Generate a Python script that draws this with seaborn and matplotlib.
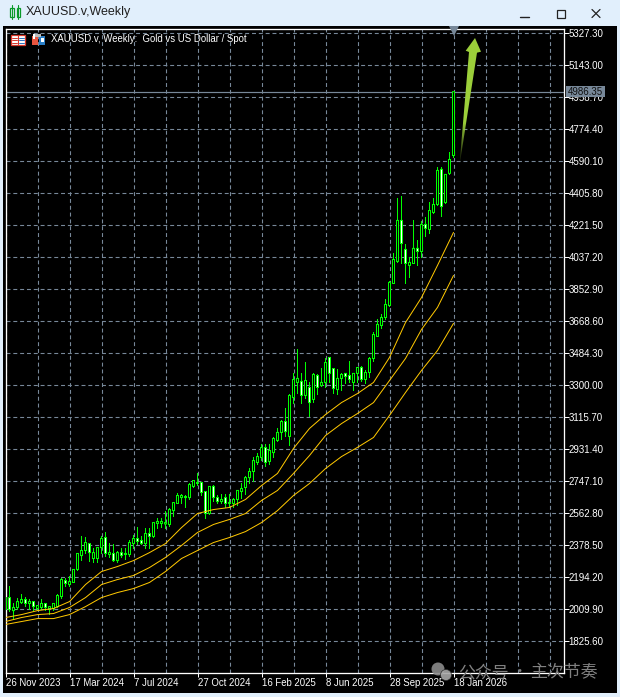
import numpy as np
import pandas as pd
import matplotlib
matplotlib.use("Agg")
import matplotlib.pyplot as plt
from matplotlib.patches import Rectangle, Polygon
import seaborn as sns

# swiece tygodniowe (open, close, high, low)
opens = [2073, 2073, 1998, 2016, 2044, 2062, 2039, 2050, 2010, 2016, 2039, 2010, 2010, 2021, 2079, 2171, 2148, 2160, 2235,
         2315, 2344, 2384, 2298, 2298, 2361, 2419, 2321, 2327, 2286, 2332, 2321, 2321, 2384, 2413, 2402, 2384, 2442, 2425,
         2500, 2500, 2497, 2494, 2574, 2615, 2649, 2655, 2649, 2713, 2730, 2736, 2684, 2557, 2713, 2649, 2626, 2649, 2615,
         2615, 2638, 2684, 2707, 2764, 2799, 2851, 2880, 2937, 2857, 2908, 2978, 3024, 3087, 3001, 3225, 3312, 3318, 3237,
         3283, 3214, 3352, 3294, 3312, 3456, 3392, 3271, 3335, 3364, 3352, 3312, 3364, 3398, 3329, 3369, 3450, 3577, 3640,
         3686, 3755, 3882, 4009, 4245, 4078, 3986, 3997, 4084, 4066, 4222, 4193, 4291, 4337, 4539, 4348, 4516, 4619]
closes = [2004, 2004, 2016, 2050, 2062, 2039, 2050, 2021, 2027, 2039, 2016, 2021, 2039, 2085, 2177, 2154, 2165, 2235, 2327,
          2344, 2390, 2332, 2332, 2361, 2413, 2327, 2332, 2286, 2332, 2315, 2327, 2390, 2413, 2396, 2384, 2442, 2425, 2505,
          2511, 2511, 2505, 2580, 2620, 2661, 2661, 2649, 2724, 2747, 2736, 2678, 2557, 2713, 2649, 2626, 2638, 2615, 2620,
          2638, 2690, 2701, 2764, 2799, 2862, 2885, 2937, 2851, 2920, 2989, 3024, 3087, 3029, 3237, 3329, 3335, 3237, 3323,
          3196, 3358, 3283, 3312, 3427, 3364, 3277, 3335, 3358, 3346, 3329, 3364, 3398, 3329, 3369, 3450, 3588, 3646, 3686,
          3761, 3888, 4020, 4245, 4112, 3997, 4003, 4084, 4066, 4222, 4199, 4302, 4337, 4533, 4325, 4510, 4596, 4986.35]
highs = [2073, 2142, 2039, 2068, 2091, 2079, 2062, 2056, 2033, 2062, 2044, 2027, 2039, 2091, 2188, 2188, 2200, 2240, 2332,
         2430, 2419, 2384, 2356, 2361, 2430, 2448, 2390, 2384, 2344, 2361, 2361, 2402, 2436, 2482, 2425, 2471, 2471, 2505,
         2534, 2534, 2574, 2586, 2626, 2678, 2672, 2661, 2730, 2753, 2788, 2741, 2684, 2713, 2724, 2661, 2672, 2672, 2672,
         2649, 2695, 2730, 2776, 2822, 2880, 2908, 2960, 2955, 2960, 2995, 3047, 3093, 3162, 3248, 3364, 3502, 3364, 3427,
         3312, 3364, 3358, 3398, 3450, 3456, 3392, 3392, 3369, 3369, 3438, 3364, 3398, 3404, 3381, 3456, 3600, 3675, 3709,
         3790, 3899, 4060, 4377, 4383, 4107, 4032, 4245, 4135, 4239, 4262, 4354, 4377, 4550, 4550, 4510, 4637, 4986.35]
lows = [2004, 1998, 1958, 2010, 2039, 2027, 2010, 2004, 2004, 2010, 2004, 1981, 2004, 2016, 2073, 2142, 2142, 2160, 2229,
        2292, 2327, 2286, 2275, 2275, 2327, 2315, 2309, 2281, 2275, 2304, 2298, 2315, 2356, 2384, 2379, 2356, 2361, 2419,
        2471, 2482, 2471, 2488, 2540, 2615, 2620, 2597, 2643, 2707, 2724, 2661, 2534, 2557, 2632, 2615, 2615, 2592, 2592,
        2592, 2609, 2649, 2672, 2730, 2747, 2845, 2868, 2828, 2845, 2880, 2972, 2989, 3006, 2949, 3196, 3254, 3196, 3225,
        3116, 3202, 3248, 3294, 3283, 3312, 3254, 3243, 3271, 3306, 3312, 3266, 3312, 3323, 3306, 3346, 3433, 3577, 3623,
        3680, 3755, 3882, 4003, 3997, 3882, 3922, 3997, 3991, 4032, 4158, 4170, 4285, 4331, 4268, 4348, 4510, 4608]

# srednie kroczace, odczyt co 4 tygodnie
ma_weeks = list(range(0, 113, 4))
ma_fast = [1958, 1975, 1998, 2010, 2050, 2148, 2223, 2252, 2286, 2332, 2384, 2476, 2557, 2580, 2592, 2638, 2718, 2788, 2932,
           3047, 3127, 3196, 3248, 3312, 3456, 3657, 3801, 3986, 4176]
ma_mid = [1935, 1958, 1975, 1981, 2016, 2073, 2148, 2177, 2200, 2246, 2304, 2373, 2448, 2494, 2523, 2557, 2632, 2690, 2788,
          2891, 3006, 3075, 3133, 3196, 3323, 3450, 3617, 3744, 3928]
ma_slow = [1918, 1935, 1952, 1952, 1975, 2021, 2073, 2102, 2125, 2160, 2223, 2298, 2344, 2390, 2419, 2453, 2505, 2574, 2661,
           2730, 2816, 2885, 2938, 2995, 3122, 3254, 3381, 3496, 3652]

price_ticks = [5327.30, 5143.00, 4958.70, 4774.40, 4590.10, 4405.80, 4221.50, 4037.20, 3852.90, 3668.60,
               3484.30, 3300.00, 3115.70, 2931.40, 2747.10, 2562.80, 2378.50, 2194.20, 2009.90, 1825.60]
date_labels = ["26 Nov 2023", "17 Mar 2024", "7 Jul 2024", "27 Oct 2024", "16 Feb 2025", "8 Jun 2025", "28 Sep 2025", "18 Jan 2026"]
last_price = 4986.35

W, H = 620, 697
GRID = "#778899"
LIME = "#00FF00"
MA_COLOR = "#FFC800"
PX = 0.72  # 1 piksel w punktach przy dpi=100
PRICE_PX = 5.759  # ile ceny na 1 piksel

sns.set_theme(style="dark", rc={"axes.facecolor": "black", "figure.facecolor": "#E1EFFC"})
plt.rcParams["font.family"] = ["Liberation Sans", "Noto Sans CJK SC", "DejaVu Sans"]

fig = plt.figure(figsize=(W / 100, H / 100), dpi=100)

# tlo okna
bg = fig.add_axes([0, 0, 1, 1], zorder=0)
bg.set_xlim(0, W)
bg.set_ylim(H, 0)
bg.axis("off")
bg.add_patch(Rectangle((3, 26), 614, 667, color="black", lw=0))

# glowny wykres
x0, x1, y0, y1 = 5.5, 563.5, 28.5, 672.5
ax = fig.add_axes([x0 / W, 1 - y1 / H, (x1 - x0) / W, (y1 - y0) / H], zorder=1)
weeks = np.arange(len(opens))
df = pd.DataFrame({"week": weeks, "open": opens, "close": closes, "high": highs, "low": lows})
df["top"] = df[["open", "close"]].max(axis=1)
df["bot"] = df[["open", "close"]].min(axis=1)
df["inner"] = np.where(df["close"] >= df["open"], "black", "white")

# male przesuniecie, zeby knot po zaokragleniu trafil w srodek swiecy
ax.vlines(df["week"] - 0.05, df["low"], df["high"], color=LIME, lw=PX, antialiased=False, zorder=3)
# swieca: zielony prostokat 3 px i wypelnienie 1 px w srodku
body_h = np.maximum(df["top"] - df["bot"] + PRICE_PX, 2 * PRICE_PX)
ax.bar(df["week"], body_h, bottom=df["bot"] - PRICE_PX / 2, width=0.75, color=LIME, linewidth=0, snap=False, zorder=4)
inner_h = np.maximum(df["top"] - df["bot"] - PRICE_PX, 0)
ax.bar(df["week"], inner_h, bottom=df["bot"] + PRICE_PX / 2, width=0.25, color=df["inner"], linewidth=0, snap=False, zorder=5)

ma_df = pd.DataFrame({"week": ma_weeks * 3, "price": ma_fast + ma_mid + ma_slow,
                      "ma": ["fast"] * 29 + ["mid"] * 29 + ["slow"] * 29})
sns.lineplot(data=ma_df, x="week", y="price", hue="ma", palette=[MA_COLOR] * 3, linewidth=PX,
             legend=False, ax=ax, zorder=6, estimator=None, errorbar=None)

ax.axhline(last_price, color=GRID, lw=PX * 1.2, zorder=2)

ax.set_xlim(0, 139.5)
ax.set_ylim(1641.5, 5350.34)
ax.set_xlabel("")
ax.set_ylabel("")
ax.set_xticks(np.arange(0, 113, 16))
ax.set_xticks(np.arange(8, 137, 8), minor=True)
ax.set_xticklabels(date_labels, ha="left", fontsize=6.9, color="white")
ax.set_yticks(price_ticks)
ax.set_yticklabels([f"{p:.2f}" for p in price_ticks], fontsize=7, color="white")
ax.yaxis.tick_right()
ax.tick_params(axis="y", which="major", length=3.4, width=PX, color="white", pad=0.1, right=True, left=False)
ax.tick_params(axis="x", which="major", length=3, width=PX, color="white", pad=0.8, bottom=True)
ax.tick_params(axis="x", which="minor", length=0)
ax.grid(True, which="both", color=GRID, lw=PX * 1.1, linestyle=(0, (3.6, 2.6)), zorder=1)
ax.set_axisbelow(True)
for side in ax.spines.values():
    side.set_color("white")
    side.set_linewidth(PX * 1.3)
ax.plot([112], [5338], marker="v", ms=6.5, color=GRID, mew=0, clip_on=False, zorder=7)

# elementy okna, strzalka, znak wodny
top = fig.add_axes([0, 0, 1, 1], zorder=2)
top.set_xlim(0, W)
top.set_ylim(H, 0)
top.axis("off")
top.patch.set_alpha(0)

top.text(26, 12.5, "XAUUSD.v,Weekly", fontsize=9.0, color="#202020", va="center", ha="left")
# ikona tytulu
top.add_patch(Rectangle((10, 7.5), 3.5, 9, fc="none", ec="#0A9A2A", lw=0.9))
top.add_patch(Rectangle((16.5, 7.5), 3.5, 9, fc="none", ec="#0A9A2A", lw=0.9))
top.plot([11.7, 11.7], [5, 19], color="#0A9A2A", lw=0.8)
top.plot([18.2, 18.2], [5, 19], color="#0A9A2A", lw=0.8)
# przyciski okna
top.plot([520, 529], [17, 17], color="#222222", lw=1)
top.add_patch(Rectangle((556.5, 9.5), 8, 8, fc="none", ec="#222222", lw=0.9))
top.plot([592, 600], [9.5, 17.5], color="#222222", lw=0.9)
top.plot([592, 600], [17.5, 9.5], color="#222222", lw=0.9)

# ikonki w naglowku wykresu
top.add_patch(Rectangle((10.5, 34.5), 14, 10, fc="white", ec="#D8362A", lw=0.9))
top.plot([17.5, 17.5], [35, 44], color="#D8362A", lw=0.8)
for yy in (37.5, 40, 42.5):
    top.plot([12, 16.5], [yy, yy], color="#D8362A", lw=0.7)
    top.plot([18.5, 23.5], [yy, yy], color="#2A6FC0", lw=0.7)
top.add_patch(Rectangle((31.5, 35.5), 6, 9, fc="#E8553F", ec="none"))
top.add_patch(Rectangle((39, 35.5), 6, 9, fc="#2A7FC8", ec="none"))
top.add_patch(Rectangle((33, 34), 2, 5, fc="white", ec="none"))
top.add_patch(Rectangle((35, 34), 6, 3, fc="#BBBBBB", ec="none"))
top.add_patch(Rectangle((41, 37.5), 2.5, 4, fc="white", ec="none"))
top.text(51, 39.5, "XAUUSD.v, Weekly:  Gold vs US Dollar / Spot", fontsize=6.9, color="white", va="center", ha="left")

# etykieta biezacej ceny
top.add_patch(Rectangle((566, 86), 39, 11, fc=GRID, ec="none"))
top.text(568, 91.7, f"{last_price:.2f}", fontsize=7, color="#101010", va="center", ha="left")

# strzalka z gradientem przy ogonie
arrow_pts = [(459.3, 167), (469, 52), (465.7, 50.7), (475, 38), (481, 51.7), (477, 52.7)]
arrow = Polygon(arrow_pts, closed=True, fc="none", ec="none")
top.add_patch(arrow)
grad = np.zeros((130, 1, 4))
rgb = matplotlib.colors.to_rgb("#9BCF3A")
grad[..., :3] = rgb
grad[..., 3] = np.clip((167 - np.linspace(38, 167, 130)) / 45, 0, 1)[:, None]
img = top.imshow(grad, extent=(455, 485, 167, 38), aspect="auto", zorder=6, interpolation="bilinear")
img.set_clip_path(arrow)
top.set_xlim(0, W)
top.set_ylim(H, 0)

# znak wodny
top.add_patch(plt.Circle((438, 669), 6.5, fc="#8C8C8C", ec="none", alpha=0.9))
top.add_patch(plt.Circle((446, 675), 5.5, fc="#A8A8A8", ec="#222222", lw=0.5, alpha=0.9))
top.text(458, 672, "公众号", fontsize=12.2, color="#808080", va="center", ha="left", family=["Noto Sans CJK SC"])
top.text(519, 672, "·", fontsize=10, color="#808080", va="center", ha="center", family=["Noto Sans CJK SC"])
top.text(530, 672, "主次节奏", fontsize=12.2, color="#808080", va="center", ha="left", family=["Noto Sans CJK SC"])

fig.savefig("out.png", dpi=100, facecolor=fig.get_facecolor())
plt.close(fig)
